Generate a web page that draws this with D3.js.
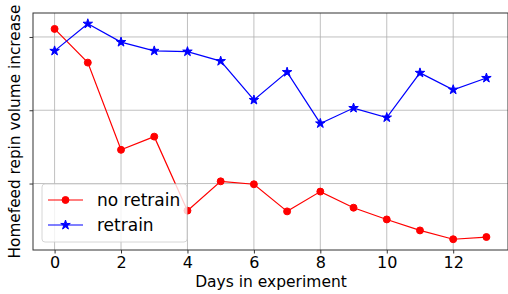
<!DOCTYPE html>
<html lang="en">
<head>
    <meta charset="UTF-8">
    <title>Homefeed repin volume increase</title>
    <script src="https://d3js.org/d3.v7.min.js"></script>
    <style>
        body { margin: 0; background: #fff; }
        svg { display: block; font-family: "DejaVu Sans", sans-serif; }
        .grid line { stroke: #b0b0b0; stroke-width: 0.8; }
    </style>
</head>
<body>
    <div id="chart"></div>
    <script>
        const width = 508;
        const height = 294;

        // data (y units are arbitrary, ticks have no labels)
        const days = [0, 1, 2, 3, 4, 5, 6, 7, 8, 9, 10, 11, 12, 13];
        const noRetrain = [3.11, 2.65, 1.46, 1.64, 0.63, 1.03, 0.99, 0.62, 0.89, 0.67, 0.51, 0.36, 0.24, 0.27];
        const retrain = [2.81, 3.18, 2.93, 2.81, 2.80, 2.67, 2.14, 2.52, 1.82, 2.03, 1.90, 2.51, 2.28, 2.44];
        const xTicks = [0, 2, 4, 6, 8, 10, 12];
        const yTicks = [1, 2, 3];

        const margin = { top: 13, right: 0, bottom: 44, left: 33 };
        const plotW = width - margin.left - margin.right;
        const plotH = height - margin.top - margin.bottom;

        // matplotlib-style 5% padding
        const allY = noRetrain.concat(retrain);
        const yMin = d3.min(allY), yMax = d3.max(allY);
        const yPad = (yMax - yMin) * 0.05;
        const xPad = (d3.max(days) - d3.min(days)) * 0.05;

        const x = d3.scaleLinear()
            .domain([d3.min(days) - xPad, d3.max(days) + xPad])
            .range([0, plotW]);
        const y = d3.scaleLinear()
            .domain([yMin - yPad, yMax + yPad])
            .range([plotH, 0]);

        const svg = d3.select("#chart").append("svg")
            .attr("width", width)
            .attr("height", height);

        const g = svg.append("g")
            .attr("transform", `translate(${margin.left},${margin.top})`);

        // grid
        g.append("g").attr("class", "grid")
            .selectAll("line").data(xTicks).enter().append("line")
            .attr("x1", d => x(d)).attr("x2", d => x(d))
            .attr("y1", 0).attr("y2", plotH);
        g.append("g").attr("class", "grid")
            .selectAll("line").data(yTicks).enter().append("line")
            .attr("x1", 0).attr("x2", plotW)
            .attr("y1", d => y(d)).attr("y2", d => y(d));

        // axes
        const xAxis = g.append("g")
            .attr("transform", `translate(0,${plotH})`)
            .call(d3.axisBottom(x).tickValues(xTicks).tickSize(3.5).tickPadding(3).tickFormat(d3.format("d")));
        xAxis.selectAll("text").attr("font-size", 16).attr("fill", "#000")
            .attr("font-family", "DejaVu Sans, sans-serif");
        xAxis.select(".domain").remove();
        xAxis.selectAll("line").attr("stroke", "#000").attr("stroke-width", 0.8);

        const yAxis = g.append("g")
            .call(d3.axisLeft(y).tickValues(yTicks).tickSize(3.5).tickFormat(""));
        yAxis.select(".domain").remove();
        yAxis.selectAll("line").attr("stroke", "#000").attr("stroke-width", 0.8);

        // spines
        g.append("rect")
            .attr("x", 0).attr("y", 0)
            .attr("width", plotW).attr("height", plotH)
            .attr("fill", "none")
            .attr("stroke", "#333").attr("stroke-width", 1);

        const line = d3.line().x((d, i) => x(days[i])).y(d => y(d));

        const series = [
            { name: "no retrain", values: noRetrain, color: "#ff0000", marker: "circle" },
            { name: "retrain", values: retrain, color: "#0000ff", marker: "star" }
        ];

        const circleSym = d3.symbol().type(d3.symbolCircle).size(38);
        const starSym = d3.symbol().type(d3.symbolStar).size(28);

        series.forEach(s => {
            g.append("path")
                .datum(s.values)
                .attr("d", line)
                .attr("fill", "none")
                .attr("stroke", s.color)
                .attr("stroke-width", 1.2);
            g.append("g").selectAll("path").data(s.values).enter().append("path")
                .attr("transform", (d, i) => `translate(${x(days[i])},${y(d)})`)
                .attr("d", s.marker === "circle" ? circleSym : starSym)
                .attr("fill", s.color)
                .attr("stroke", s.color)
                .attr("stroke-width", 1);
        });

        // legend
        const legend = svg.append("g").attr("transform", "translate(42,184)");
        legend.append("rect")
            .attr("width", 145).attr("height", 58)
            .attr("rx", 3)
            .attr("fill", "#fff").attr("fill-opacity", 0.8)
            .attr("stroke", "#ccc").attr("stroke-width", 0.8);
        series.forEach((s, i) => {
            const row = legend.append("g").attr("transform", `translate(0,${16 + i * 25})`);
            row.append("line")
                .attr("x1", 6).attr("x2", 41)
                .attr("stroke", s.color).attr("stroke-width", 1.2);
            row.append("path")
                .attr("transform", "translate(23.5,0)")
                .attr("d", s.marker === "circle" ? circleSym : starSym)
                .attr("fill", s.color).attr("stroke", s.color).attr("stroke-width", 1);
            row.append("text")
                .attr("x", 55).attr("y", 0).attr("dy", "0.35em")
                .attr("font-size", 17)
                .text(s.name);
        });

        // axis labels
        svg.append("text")
            .attr("x", 271)
            .attr("y", 287)
            .attr("text-anchor", "middle")
            .attr("font-size", 15.5)
            .text("Days in experiment");

        svg.append("text")
            .attr("transform", "translate(19.5,131.5) rotate(-90)")
            .attr("text-anchor", "middle")
            .attr("font-size", 15.3)
            .text("Homefeed repin volume increase");
    </script>
</body>
</html>
